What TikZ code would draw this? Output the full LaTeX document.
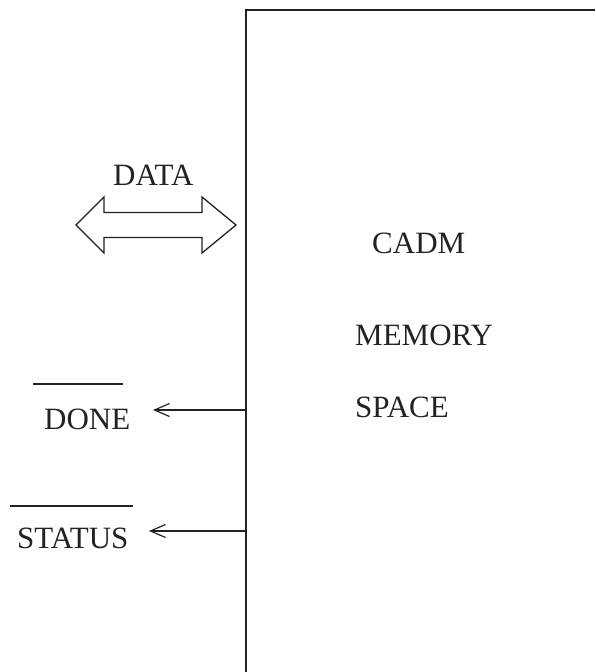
\documentclass[tikz,border=0pt]{standalone}
\usepackage{fontspec}
\setmainfont{Liberation Serif}
\usetikzlibrary{arrows.meta}

\definecolor{ink}{HTML}{222222}

\begin{document}
\begin{tikzpicture}[x=1pt,y=-1pt,
  lbl/.style={inner sep=0pt, anchor=base west, text=ink,
              font=\fontsize{31}{36}\selectfont},
  edge/.style={draw=ink, line width=1.3pt},
  sig/.style={draw=ink, line width=1.2pt,
              -{Straight Barb[length=15pt,width=13pt,line width=1.2pt]}},
  bar/.style={draw=ink, line width=1.3pt}]
  \useasboundingbox (0,0) rectangle (595,672);

  % memory block: only its left and top sides are visible
  \coordinate (boxBL) at (246,672);
  \coordinate (boxTL) at (246,10);
  \coordinate (boxTR) at (595,10);
  \draw[edge] (boxBL) -- (boxTL) -- (boxTR);

  % labels inside the block
  \node[lbl] (cadm) at (372,253) {CADM};
  \node[lbl] (memory) at (355,345) {MEMORY};
  \node[lbl] (space) at (355,417) {SPACE};

  % bidirectional data bus
  \node[lbl] (data) at (113,185) {DATA};
  \coordinate (busL) at (76,225);
  \coordinate (busR) at (236,225);
  \draw[edge, line join=miter]
    (busL) -- (104,197) -- (104,212.5) -- (202,212.5) -- (202,197)
    -- (busR) -- (202,253) -- (202,237.5) -- (104,237.5) -- (104,253)
    -- cycle;

  % DONE signal (active low)
  \node[lbl] (done) at (44,429) {DONE};
  \draw[bar] (33,384) -- (123,384);
  \coordinate (donePort) at (246,410);
  \coordinate (doneTip) at (153,410);
  \draw[sig] (donePort) -- (doneTip);

  % STATUS signal (active low)
  \node[lbl] (status) at (17,548) {STATUS};
  \draw[bar] (10,506) -- (133,506);
  \coordinate (statusPort) at (246,531);
  \coordinate (statusTip) at (149,531);
  \draw[sig] (statusPort) -- (statusTip);
\end{tikzpicture}
\end{document}
